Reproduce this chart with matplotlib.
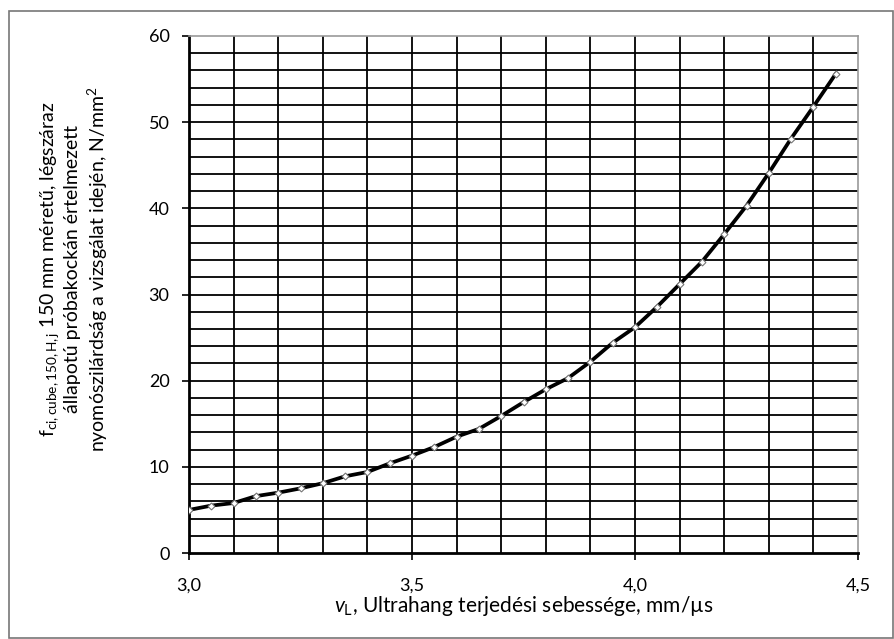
import numpy as np
import matplotlib.pyplot as plt
from matplotlib.patches import Rectangle

plt.rcParams['font.family'] = ['Lato', 'DejaVu Sans']
plt.rcParams['mathtext.fontset'] = 'custom'
plt.rcParams['mathtext.rm'] = 'Lato'
plt.rcParams['mathtext.it'] = 'Lato:italic'

# ultrasonic velocity (mm/us) and compressive strength (N/mm2)
v_L = [3.00, 3.05, 3.10, 3.15, 3.20, 3.25, 3.30, 3.35, 3.40, 3.45,
       3.50, 3.55, 3.60, 3.65, 3.70, 3.75, 3.80, 3.85, 3.90, 3.95,
       4.00, 4.05, 4.10, 4.15, 4.20, 4.25, 4.30, 4.35, 4.40, 4.45]
f_ci = [5.0, 5.5, 5.8, 6.6, 7.0, 7.5, 8.1, 8.9, 9.4, 10.4,
        11.3, 12.3, 13.5, 14.4, 15.9, 17.5, 19.0, 20.3, 22.2, 24.4,
        26.2, 28.6, 31.2, 33.8, 37.0, 40.3, 44.1, 48.1, 51.8, 55.6]
x_ticks = [3.0, 3.5, 4.0, 4.5]
x_tick_labels = ['3,0', '3,5', '4,0', '4,5']
y_ticks = [0, 10, 20, 30, 40, 50, 60]

fig = plt.figure(figsize=(8.94, 6.39), dpi=100)
ax = fig.add_axes([189/894, 1-553/639, (858-189)/894, (553-36)/639])

# grid every 0.1 in x, every 2 in y
for gx in np.arange(3.1, 4.45, 0.1):
    ax.axvline(gx, color='black', lw=1.3, zorder=1)
for gy in np.arange(2, 60, 2):
    ax.axhline(gy, color='black', lw=1.3, zorder=1)

ax.plot(v_L, f_ci, color='black', lw=2.7, zorder=3,
        marker='D', markersize=3.5, markerfacecolor='white',
        markeredgecolor='#777777', markeredgewidth=0.8)

ax.set_xlim(3.0, 4.5)
ax.set_ylim(0, 60)
ax.set_xticks(x_ticks)
ax.set_xticklabels(x_tick_labels)
ax.set_yticks(y_ticks)
ax.tick_params(axis='both', direction='out', length=5, width=1.2,
               labelsize=13, colors='black')
ax.tick_params(axis='x', pad=13)
ax.tick_params(axis='y', pad=9)

ax.spines['left'].set_linewidth(2)
ax.spines['bottom'].set_linewidth(2)
ax.spines['top'].set_color('#999999')
ax.spines['right'].set_color('#999999')
ax.spines['top'].set_linewidth(1.2)
ax.spines['right'].set_linewidth(1.2)

ax.set_xlabel(r'$\mathit{v}_{\mathrm{L}}$, Ultrahang terjedési sebessége, mm/µs',
              fontsize=15, labelpad=0)
ax.set_ylabel(r'$\mathrm{f}_{\mathrm{ci,cube,150,H,j}}$ 150 mm méretű, légszáraz' + '\n'
              + 'állapotú próbakockán értelmezett' + '\n'
              + r'nyomószilárdság a vizsgálat idején, N/mm$^2$',
              fontsize=14, linespacing=1.25)
ax.yaxis.label.set_va('center')
ax.yaxis.set_label_coords(-0.172, 0.55)

# border around the whole figure
fig.patches.append(Rectangle((9/894, 1/639), 884/894, 627/639,
                             transform=fig.transFigure, fill=False,
                             edgecolor='#777777', lw=1.2))

fig.savefig('out.png', dpi=100)
